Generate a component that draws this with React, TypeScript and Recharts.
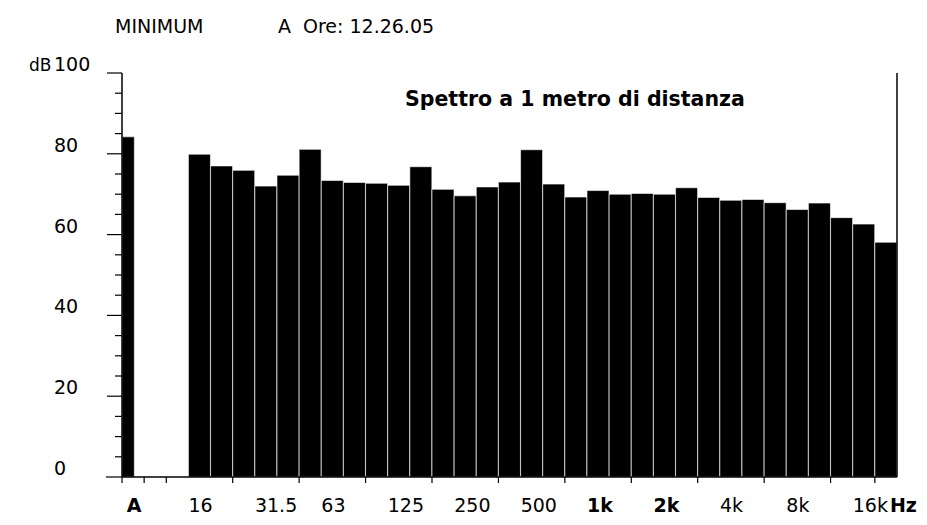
import React from 'react';
import { BarChart, Bar, XAxis, YAxis, Rectangle } from 'recharts';

// Categories: overall A level, two empty slots, then 1/3-octave bands 16 Hz .. 20 kHz
const bands = [
  'A', 'gap1', 'gap2',
  '16', '20', '25', '31.5', '40', '50', '63', '80', '100', '125', '160', '200',
  '250', '315', '400', '500', '630', '800', '1k', '1.25k', '1.6k', '2k', '2.5k',
  '3.15k', '4k', '5k', '6.3k', '8k', '10k', '12.5k', '16k', '20k',
];

// Levels in dB (minimum spectrum at 1 m)
const levels: (number | null)[] = [
  84.2, null, null,
  79.9, 77.0, 75.9, 72.0, 74.7, 81.1, 73.4, 72.9, 72.7, 72.2, 76.8, 71.2,
  69.6, 71.8, 73.0, 81.0, 72.5, 69.3, 70.9, 70.0, 70.2, 70.0, 71.6,
  69.2, 68.5, 68.7, 67.9, 66.2, 67.8, 64.2, 62.6, 58.1,
];

const yTicks = [0, 5, 10, 15, 20, 25, 30, 35, 40, 45, 50, 55, 60, 65, 70, 75, 80, 85, 90, 95, 100];
const yMajor = [0, 20, 40, 60, 80, 100];

// Slot scale of the frequency axis (35 slots) and its tick marks (slot boundaries)
const slotDomain = [0, 35];
const xTickMarks = [0, 1, 2, 5, 8, 11, 14, 17, 20, 23, 26, 29, 32, 34];
// Labels on the frequency axis and the slot each one belongs to
const xLabelText = ['A', '16', '31.5', '63', '125', '250', '500', '1k', '2k', '4k', '8k', '16k'];
const xLabelSlots = [0, 3, 6, 9, 12, 15, 18, 21, 24, 27, 30, 33];
const boldLabels = ['A', '1k', '2k'];

const data = bands.map((b, i) => ({ band: b, pos: i + 0.5, level: levels[i] }));
const xLabelPositions = xLabelSlots.map((s) => s + 0.5);
const xAllTicks = [...xTickMarks, ...xLabelPositions, slotDomain[1]].sort((a, b) => a - b);

const FONT = '"DejaVu Sans", "Liberation Sans", Arial, sans-serif';

const YTick = (props: any) => {
  const { x, y, payload } = props;
  const v = payload.value as number;
  const major = yMajor.includes(v);
  const len = v === 0 ? 16 : major ? 15 : 7;
  return (
    <g>
      <line x1={x - len} x2={x} y1={y} y2={y} stroke="#000" strokeWidth={1.2} />
      {major && (
        <text x={x - 68} y={y - 2} textAnchor="start" fontFamily={FONT} fontSize={19} fill="#000">
          {v}
        </text>
      )}
    </g>
  );
};

const XTick = (props: any) => {
  const { x, y, payload } = props;
  const v = payload.value as number;
  if (Number.isInteger(v)) {
    if (!xTickMarks.includes(v)) return null;
    return <line x1={x} x2={x} y1={y} y2={y + 6} stroke="#000" strokeWidth={1.2} />;
  }
  const idx = xLabelSlots.indexOf(v - 0.5);
  if (idx < 0) return null;
  const label = xLabelText[idx];
  const bold = boldLabels.includes(label);
  const isA = label === 'A';
  const isLast = idx === xLabelText.length - 1;
  return (
    <text
      x={isA ? x + 1 : x - 11}
      y={y + 35}
      textAnchor={isA ? 'middle' : 'start'}
      fontFamily={FONT}
      fontSize={19}
      fontWeight={bold ? 'bold' : 'normal'}
      fill="#000"
    >
      {label}
      {isLast && (
        <tspan dx={2} fontWeight="bold">
          Hz
        </tspan>
      )}
    </text>
  );
};

const BarShape = (props: any) => {
  const { payload, width } = props;
  const w = payload && payload.band === 'A' ? width * 0.56 : width;
  return <Rectangle {...props} width={w} />;
};

export default function App() {
  return (
    <div style={{ position: 'absolute', left: 0, top: 0, width: 927, height: 525, background: '#fff' }}>
      <BarChart
        width={927}
        height={525}
        data={data}
        margin={{ top: 73, right: 0, bottom: 0, left: 0 }}
        barCategoryGap={0}
        barGap={0}
      >
        <XAxis dataKey="band" xAxisId="bars" hide height={0} />
        <XAxis
          xAxisId="scale"
          dataKey="pos"
          type="number"
          domain={slotDomain}
          allowDataOverflow
          ticks={xAllTicks}
          interval={0}
          tick={<XTick />}
          tickLine={false}
          tickSize={0}
          tickMargin={0}
          height={48}
          axisLine={{ stroke: '#000', strokeWidth: 1.5 }}
        />
        <YAxis
          yAxisId="left"
          domain={[0, 100]}
          allowDataOverflow
          ticks={yTicks}
          interval={0}
          tick={<YTick />}
          tickLine={false}
          tickSize={0}
          tickMargin={0}
          width={122}
          axisLine={{ stroke: '#000', strokeWidth: 1.5 }}
        />
        <YAxis
          yAxisId="right"
          orientation="right"
          domain={[0, 100]}
          allowDataOverflow
          tick={false}
          tickLine={false}
          width={30}
          axisLine={{ stroke: '#000', strokeWidth: 1.5 }}
        />
        <Bar
          dataKey="level"
          xAxisId="bars"
          yAxisId="left"
          fill="#000"
          stroke="#fff"
          strokeWidth={0.6}
          isAnimationActive={false}
          shape={<BarShape />}
        />
      </BarChart>
      <svg
        width={927}
        height={525}
        style={{ position: 'absolute', left: 0, top: 0, pointerEvents: 'none' }}
      >
        <g fontFamily={FONT} fill="#000">
          <text x={115} y={33} fontSize={19}>MINIMUM</text>
          <text x={278} y={33} fontSize={19}>A</text>
          <text x={303} y={33} fontSize={19}>Ore: 12.26.05</text>
          <text x={29} y={71} fontSize={17}>dB</text>
          <text x={405} y={106} fontSize={20.5} fontWeight="bold">Spettro a 1 metro di distanza</text>
        </g>
      </svg>
    </div>
  );
}
